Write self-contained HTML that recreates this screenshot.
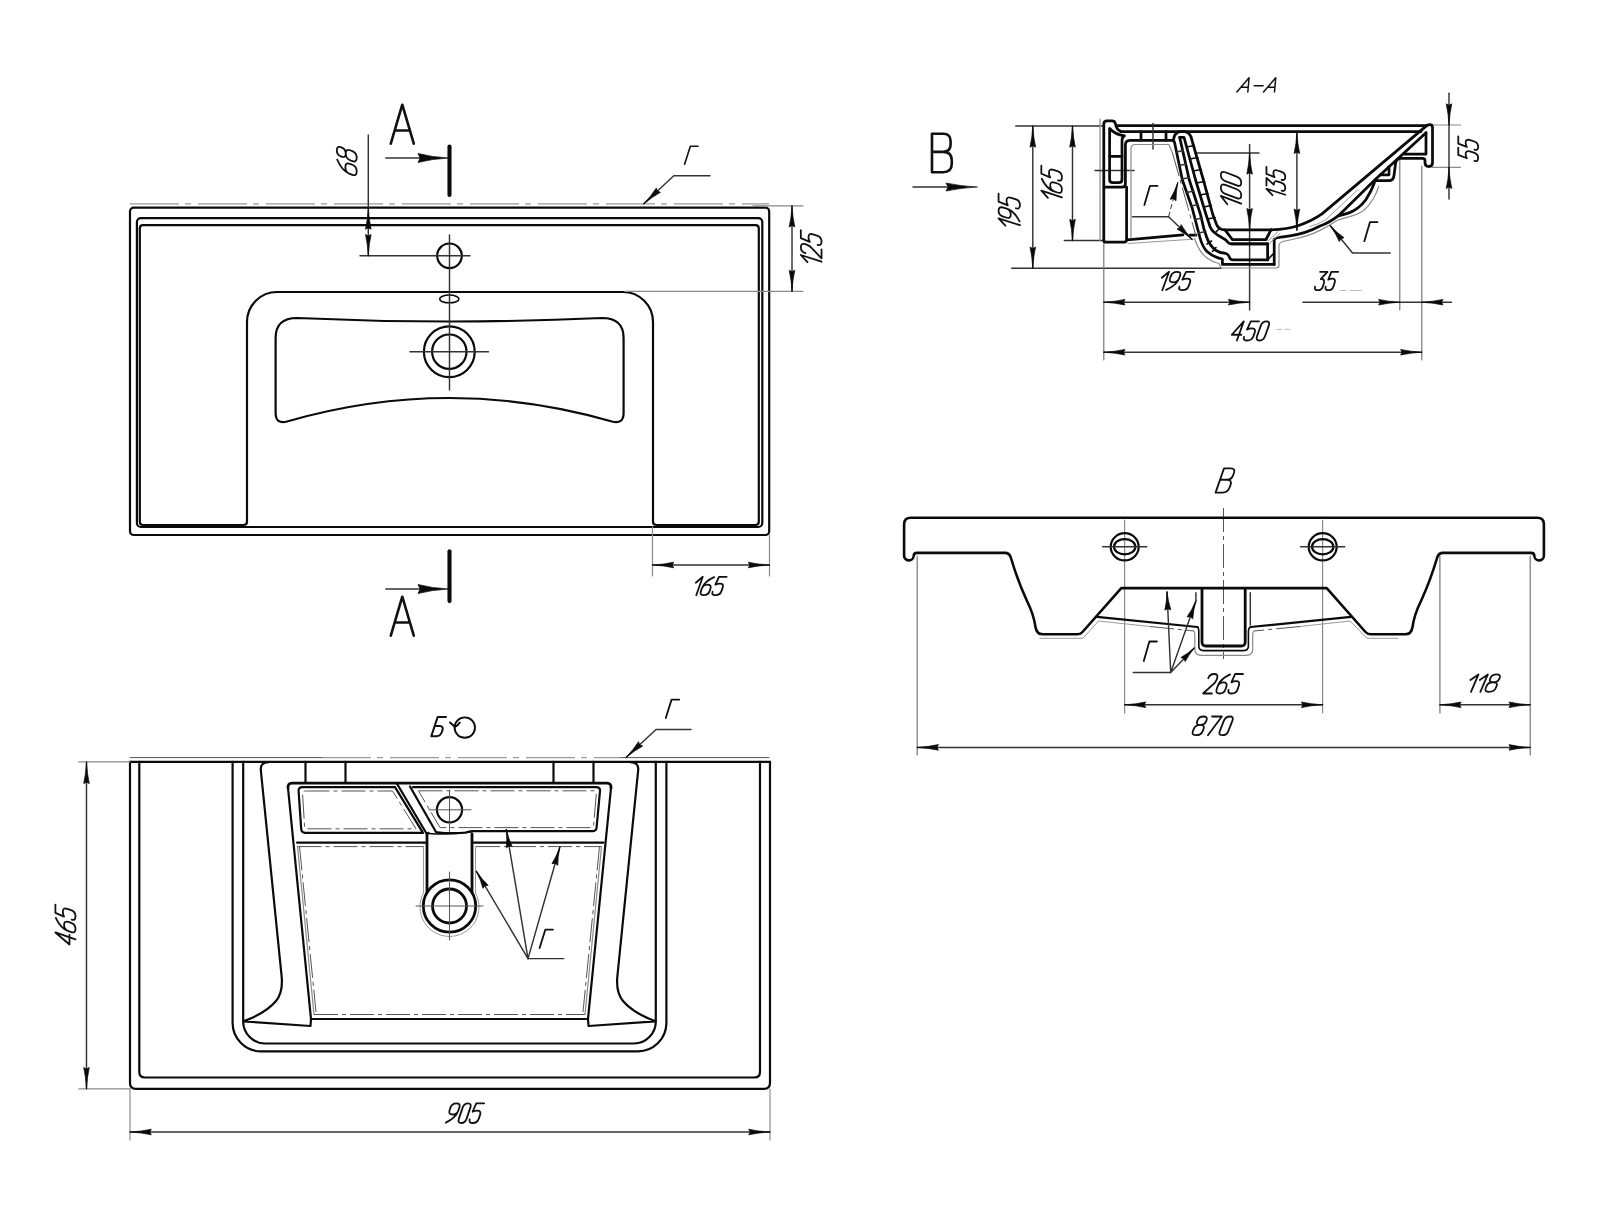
<!DOCTYPE html>
<html><head><meta charset="utf-8"><title>Sink drawing</title><style>
html,body{margin:0;padding:0;background:#fff;}
body{width:1600px;height:1217px;overflow:hidden;font-family:"Liberation Sans",sans-serif;}
svg{display:block}
path,circle,rect,ellipse{fill:none;stroke-linecap:round;stroke-linejoin:round}
.k{stroke:#0a0a0a;stroke-width:2.2}
.kk{stroke:#0a0a0a;stroke-width:4.1}
.kv{stroke:#0a0a0a;stroke-width:2.6}
.kk2{stroke:#0a0a0a;stroke-width:2.8}
.ks{stroke:#0a0a0a;stroke-width:2.75}
.m{stroke:#0a0a0a;stroke-width:1.6}
.m2{stroke:#0a0a0a;stroke-width:1.9}
.t{stroke:#333;stroke-width:1.45}
.c{stroke:#555;stroke-width:1}
.e{stroke:#777;stroke-width:1.2}
.f{stroke:#bbb;stroke-width:1}
.g{stroke:#8a8a8a;stroke-width:1.2}
.gt{stroke:#9a9a9a;stroke-width:1}
.dd{stroke:#9a9a9a;stroke-width:1.3;stroke-dasharray:49 6 6 7;stroke-linecap:butt}
.dk{stroke:#555;stroke-width:1;stroke-dasharray:24 4 4 4;stroke-linecap:butt}
.ds{stroke:#333;stroke-width:1;stroke-dasharray:5 3;stroke-linecap:butt}
</style></head>
<body><svg width="1600" height="1217" viewBox="0 0 1600 1217">
<rect x="0" y="0" width="1600" height="1217" fill="#fff" stroke="none"/>
<path class="dd" d="M130,203.8 H769"/>
<rect class="k" x="130" y="207.7" width="639.2" height="327.3" rx="3.8"/>
<rect class="k" x="136.9" y="218.1" width="625.4" height="308.9" rx="4"/>
<path class="k" d="M143,525 H243.5 Q247,525 247,521.5 V322 A30,30 0 0 1 277,292 H623 A30,30 0 0 1 653,322 V521.5 Q653,525 656.5,525 H755.5 Q758.8,525 758.8,521.8 V228.4 Q758.8,225.2 755.5,225.2 H143 Q139.8,225.2 139.8,228.4 V521.8 Q139.8,525 143,525 Z"/>
<path class="k" d="M275.6,338 Q275.6,318 297,318 Q449.5,325 602,318 Q623.6,318 623.6,338 V413 Q623.6,424.5 612,421.5 Q449.5,374.5 287,421.5 Q275.6,424.5 275.6,413 Z"/>
<circle class="k" cx="449.3" cy="351.7" r="25.4"/>
<circle class="k" cx="449.3" cy="351.7" r="17.2"/>
<path class="t" d="M410,351.7 H488.5"/>
<ellipse class="m" cx="449.3" cy="298.9" rx="9.6" ry="3.9"/>
<circle class="k" cx="449.5" cy="255.8" r="12.3"/>
<path class="t" d="M449.5,235 V390"/>
<path class="t" d="M360,255.8 H470"/>
<path class="t" d="M368.3,135 V255.8"/>
<path transform="translate(368.30,208.30) rotate(-90.00)" d="M0,0 Q-11.55,0.62 -21.00,2.80 L-19.53,0 L-21.00,-2.80 Q-11.55,-0.62 0,0 Z" style="fill:#0a0a0a;stroke:#0a0a0a;stroke-width:0.7;stroke-linejoin:round"/>
<path transform="translate(368.30,255.50) rotate(90.00)" d="M0,0 Q-11.55,0.62 -21.00,2.80 L-19.53,0 L-21.00,-2.80 Q-11.55,-0.62 0,0 Z" style="fill:#0a0a0a;stroke:#0a0a0a;stroke-width:0.7;stroke-linejoin:round"/>
<g id="t0" transform="translate(-0.349,-16.186) scale(1.0010,1.0995) translate(356.69,175.19) rotate(-90) scale(1.9786,1.9880) skewX(-19)" fill="none" stroke="#111" stroke-width="1.8" stroke-linecap="round" stroke-linejoin="round"><path vector-effect="non-scaling-stroke" transform="translate(0.00,-10)" d="M4.4,0.2 Q0,2.6 0,6.2 V7.8 Q0,10 2.3,10 Q4.6,10 4.6,7.8 V6.5 Q4.6,4.3 2.3,4.3 Q0,4.3 0,6.5"/><path vector-effect="non-scaling-stroke" transform="translate(6.30,-10)" d="M2.3,0 Q4.4,0 4.4,2 V2.5 Q4.4,4.5 2.3,4.5 Q0.2,4.5 0.2,2.5 V2 Q0.2,0 2.3,0 Z M2.3,4.5 Q4.6,4.5 4.6,6.7 V7.8 Q4.6,10 2.3,10 Q0,10 0,7.8 V6.7 Q0,4.5 2.3,4.5 Z"/></g>
<g id="t1" transform="translate(-15.250,-2.618) scale(1.0380,1.0208) translate(391.17,143.33) scale(3.9571,3.8160)" fill="none" stroke="#111" stroke-width="2.6" stroke-linecap="round" stroke-linejoin="round"><path vector-effect="non-scaling-stroke" transform="translate(0.00,-10)" d="M0,10 L2.8,0 L5.6,10 M0.95,6.6 H4.65"/></g>
<path class="t" d="M385.8,158 H440"/>
<path transform="translate(448.00,158.00) rotate(0.00)" d="M0,0 Q-16.50,0.99 -30.00,4.50 L-27.90,0 L-30.00,-4.50 Q-16.50,-0.99 0,0 Z" style="fill:#0a0a0a;stroke:#0a0a0a;stroke-width:0.7;stroke-linejoin:round"/>
<path class="kk" d="M449.5,146.6 V194.9"/>
<path class="kk" d="M449.5,551.2 V601.1"/>
<path class="t" d="M385.8,589 H440"/>
<path transform="translate(448.00,589.00) rotate(0.00)" d="M0,0 Q-16.50,0.99 -30.00,4.50 L-27.90,0 L-30.00,-4.50 Q-16.50,-0.99 0,0 Z" style="fill:#0a0a0a;stroke:#0a0a0a;stroke-width:0.7;stroke-linejoin:round"/>
<g id="t2" transform="translate(-15.250,-12.875) scale(1.0380,1.0208) translate(391.17,635.33) scale(3.9571,3.8160)" fill="none" stroke="#111" stroke-width="2.6" stroke-linecap="round" stroke-linejoin="round"><path vector-effect="non-scaling-stroke" transform="translate(0.00,-10)" d="M0,10 L2.8,0 L5.6,10 M0.95,6.6 H4.65"/></g>
<g id="t3" transform="translate(8.165,1.375) scale(0.9882,0.9911) translate(684.52,164.28) scale(1.6859,1.8060) skewX(-19)" fill="none" stroke="#111" stroke-width="1.6" stroke-linecap="round" stroke-linejoin="round"><path vector-effect="non-scaling-stroke" transform="translate(0.00,-10)" d="M0,10 V0 H4.6"/></g>
<path class="t" d="M710,175.8 H673.8 L643.8,203.8"/>
<path transform="translate(643.80,203.80) rotate(136.97)" d="M0,0 Q-11.00,0.66 -20.00,3.00 L-18.60,0 L-20.00,-3.00 Q-11.00,-0.66 0,0 Z" style="fill:#0a0a0a;stroke:#0a0a0a;stroke-width:0.7;stroke-linejoin:round"/>
<path class="g" d="M753,205.8 H803 M625,291.3 H803"/>
<path class="t" d="M792,206 V291"/>
<path transform="translate(792.00,206.00) rotate(-90.00)" d="M0,0 Q-11.55,0.62 -21.00,2.80 L-19.53,0 L-21.00,-2.80 Q-11.55,-0.62 0,0 Z" style="fill:#0a0a0a;stroke:#0a0a0a;stroke-width:0.7;stroke-linejoin:round"/>
<path transform="translate(792.00,291.20) rotate(90.00)" d="M0,0 Q-11.55,0.62 -21.00,2.80 L-19.53,0 L-21.00,-2.80 Q-11.55,-0.62 0,0 Z" style="fill:#0a0a0a;stroke:#0a0a0a;stroke-width:0.7;stroke-linejoin:round"/>
<g id="t4" transform="translate(-0.784,-33.040) scale(1.0010,1.1435) translate(821.49,262.19) rotate(-90) scale(1.7062,2.0680) skewX(-19)" fill="none" stroke="#111" stroke-width="1.8" stroke-linecap="round" stroke-linejoin="round"><path vector-effect="non-scaling-stroke" transform="translate(0.00,-10)" d="M0,3.2 L2.6,0 V10"/><path vector-effect="non-scaling-stroke" transform="translate(4.30,-10)" d="M0,2.2 Q0,0 2.3,0 Q4.6,0 4.6,2.2 V2.8 Q4.6,4.3 3.5,5.5 L0,10 H4.6"/><path vector-effect="non-scaling-stroke" transform="translate(10.60,-10)" d="M4.7,0 H0.6 L0.2,4.3 Q1.1,3.7 2.4,3.7 Q4.6,3.7 4.6,5.9 V7.8 Q4.6,10 2.3,10 Q0,10 0,8.1"/></g>
<path class="g" d="M652.5,527 V576 M769.5,535 V576"/>
<path class="t" d="M652.5,565 H769.5"/>
<path transform="translate(652.70,565.00) rotate(180.00)" d="M0,0 Q-11.55,0.62 -21.00,2.80 L-19.53,0 L-21.00,-2.80 Q-11.55,-0.62 0,0 Z" style="fill:#0a0a0a;stroke:#0a0a0a;stroke-width:0.7;stroke-linejoin:round"/>
<path transform="translate(769.30,565.00) rotate(0.00)" d="M0,0 Q-11.55,0.62 -21.00,2.80 L-19.53,0 L-21.00,-2.80 Q-11.55,-0.62 0,0 Z" style="fill:#0a0a0a;stroke:#0a0a0a;stroke-width:0.7;stroke-linejoin:round"/>
<g id="t5" transform="translate(-104.277,-0.638) scale(1.1435,1.0011) translate(695.81,595.19) scale(1.6475,1.8380) skewX(-19)" fill="none" stroke="#111" stroke-width="1.8" stroke-linecap="round" stroke-linejoin="round"><path vector-effect="non-scaling-stroke" transform="translate(0.00,-10)" d="M0,3.2 L2.6,0 V10"/><path vector-effect="non-scaling-stroke" transform="translate(4.30,-10)" d="M4.4,0.2 Q0,2.6 0,6.2 V7.8 Q0,10 2.3,10 Q4.6,10 4.6,7.8 V6.5 Q4.6,4.3 2.3,4.3 Q0,4.3 0,6.5"/><path vector-effect="non-scaling-stroke" transform="translate(10.60,-10)" d="M4.7,0 H0.6 L0.2,4.3 Q1.1,3.7 2.4,3.7 Q4.6,3.7 4.6,5.9 V7.8 Q4.6,10 2.3,10 Q0,10 0,8.1"/></g>
<path class="t" d="M1015.8,126 H1104 M1011.7,268.3 H1221 M1064.3,240.5 H1104"/>
<path class="t" d="M1032.8,126 V268.3 M1072.5,126 V240.5"/>
<path transform="translate(1032.80,126.20) rotate(-90.00)" d="M0,0 Q-11.55,0.62 -21.00,2.80 L-19.53,0 L-21.00,-2.80 Q-11.55,-0.62 0,0 Z" style="fill:#0a0a0a;stroke:#0a0a0a;stroke-width:0.7;stroke-linejoin:round"/>
<path transform="translate(1032.80,268.10) rotate(90.00)" d="M0,0 Q-11.55,0.62 -21.00,2.80 L-19.53,0 L-21.00,-2.80 Q-11.55,-0.62 0,0 Z" style="fill:#0a0a0a;stroke:#0a0a0a;stroke-width:0.7;stroke-linejoin:round"/>
<path transform="translate(1072.50,126.20) rotate(-90.00)" d="M0,0 Q-11.55,0.62 -21.00,2.80 L-19.53,0 L-21.00,-2.80 Q-11.55,-0.62 0,0 Z" style="fill:#0a0a0a;stroke:#0a0a0a;stroke-width:0.7;stroke-linejoin:round"/>
<path transform="translate(1072.50,240.30) rotate(90.00)" d="M0,0 Q-11.55,0.62 -21.00,2.80 L-19.53,0 L-21.00,-2.80 Q-11.55,-0.62 0,0 Z" style="fill:#0a0a0a;stroke:#0a0a0a;stroke-width:0.7;stroke-linejoin:round"/>
<g id="t6" transform="translate(-0.944,-27.794) scale(1.0009,1.1435) translate(1019.99,225.69) rotate(-90) scale(1.7115,2.1380) skewX(-19)" fill="none" stroke="#111" stroke-width="1.8" stroke-linecap="round" stroke-linejoin="round"><path vector-effect="non-scaling-stroke" transform="translate(0.00,-10)" d="M0,3.2 L2.6,0 V10"/><path vector-effect="non-scaling-stroke" transform="translate(4.30,-10)" d="M0.2,9.8 Q4.6,7.4 4.6,3.8 V2.2 Q4.6,0 2.3,0 Q0,0 0,2.2 V3.5 Q0,5.7 2.3,5.7 Q4.6,5.7 4.6,3.5"/><path vector-effect="non-scaling-stroke" transform="translate(10.60,-10)" d="M4.7,0 H0.6 L0.2,4.3 Q1.1,3.7 2.4,3.7 Q4.6,3.7 4.6,5.9 V7.8 Q4.6,10 2.3,10 Q0,10 0,8.1"/></g>
<g id="t7" transform="translate(-1.022,-23.790) scale(1.0010,1.1435) translate(1061.89,197.79) rotate(-90) scale(1.7115,2.0580) skewX(-19)" fill="none" stroke="#111" stroke-width="1.8" stroke-linecap="round" stroke-linejoin="round"><path vector-effect="non-scaling-stroke" transform="translate(0.00,-10)" d="M0,3.2 L2.6,0 V10"/><path vector-effect="non-scaling-stroke" transform="translate(4.30,-10)" d="M4.4,0.2 Q0,2.6 0,6.2 V7.8 Q0,10 2.3,10 Q4.6,10 4.6,7.8 V6.5 Q4.6,4.3 2.3,4.3 Q0,4.3 0,6.5"/><path vector-effect="non-scaling-stroke" transform="translate(10.60,-10)" d="M4.7,0 H0.6 L0.2,4.3 Q1.1,3.7 2.4,3.7 Q4.6,3.7 4.6,5.9 V7.8 Q4.6,10 2.3,10 Q0,10 0,8.1"/></g>
<path class="g" d="M1100,119 V241"/>
<path class="t" d="M1095,170.5 H1134"/>
<path class="e" d="M1103.8,240 V360 M1399.8,160 V310 M1421.8,166 V360"/>
<path class="t" d="M1249.6,144.4 V310"/>
<path class="t" d="M1103.8,302.2 H1249.6"/>
<path transform="translate(1104.00,302.20) rotate(180.00)" d="M0,0 Q-11.55,0.62 -21.00,2.80 L-19.53,0 L-21.00,-2.80 Q-11.55,-0.62 0,0 Z" style="fill:#0a0a0a;stroke:#0a0a0a;stroke-width:0.7;stroke-linejoin:round"/>
<path transform="translate(1249.40,302.20) rotate(0.00)" d="M0,0 Q-11.55,0.62 -21.00,2.80 L-19.53,0 L-21.00,-2.80 Q-11.55,-0.62 0,0 Z" style="fill:#0a0a0a;stroke:#0a0a0a;stroke-width:0.7;stroke-linejoin:round"/>
<g id="t8" transform="translate(-171.272,-0.306) scale(1.1434,1.0011) translate(1161.81,290.19) scale(1.7276,1.8380) skewX(-19)" fill="none" stroke="#111" stroke-width="1.8" stroke-linecap="round" stroke-linejoin="round"><path vector-effect="non-scaling-stroke" transform="translate(0.00,-10)" d="M0,3.2 L2.6,0 V10"/><path vector-effect="non-scaling-stroke" transform="translate(4.30,-10)" d="M0.2,9.8 Q4.6,7.4 4.6,3.8 V2.2 Q4.6,0 2.3,0 Q0,0 0,2.2 V3.5 Q0,5.7 2.3,5.7 Q4.6,5.7 4.6,3.5"/><path vector-effect="non-scaling-stroke" transform="translate(10.60,-10)" d="M4.7,0 H0.6 L0.2,4.3 Q1.1,3.7 2.4,3.7 Q4.6,3.7 4.6,5.9 V7.8 Q4.6,10 2.3,10 Q0,10 0,8.1"/></g>
<path class="t" d="M1303,302.2 H1451.5"/>
<path transform="translate(1399.60,302.20) rotate(0.00)" d="M0,0 Q-11.55,0.62 -21.00,2.80 L-19.53,0 L-21.00,-2.80 Q-11.55,-0.62 0,0 Z" style="fill:#0a0a0a;stroke:#0a0a0a;stroke-width:0.7;stroke-linejoin:round"/>
<path transform="translate(1422.00,302.20) rotate(180.00)" d="M0,0 Q-11.55,0.62 -21.00,2.80 L-19.53,0 L-21.00,-2.80 Q-11.55,-0.62 0,0 Z" style="fill:#0a0a0a;stroke:#0a0a0a;stroke-width:0.7;stroke-linejoin:round"/>
<g id="t9" transform="translate(-50.132,-0.310) scale(1.0375,1.0011) translate(1314.81,290.19) scale(1.6187,1.8380) skewX(-19)" fill="none" stroke="#111" stroke-width="1.8" stroke-linecap="round" stroke-linejoin="round"><path vector-effect="non-scaling-stroke" transform="translate(0.00,-10)" d="M0.2,0 H4.6 L2,3.9 Q4.6,3.9 4.6,6.1 V7.8 Q4.6,10 2.3,10 Q0,10 0,8.1"/><path vector-effect="non-scaling-stroke" transform="translate(6.30,-10)" d="M4.7,0 H0.6 L0.2,4.3 Q1.1,3.7 2.4,3.7 Q4.6,3.7 4.6,5.9 V7.8 Q4.6,10 2.3,10 Q0,10 0,8.1"/></g>
<path class="f" d="M1340,290.5 H1346 M1350,290.5 H1361"/>
<path class="t" d="M1103.8,352.2 H1421.8"/>
<path transform="translate(1104.00,352.20) rotate(180.00)" d="M0,0 Q-11.55,0.62 -21.00,2.80 L-19.53,0 L-21.00,-2.80 Q-11.55,-0.62 0,0 Z" style="fill:#0a0a0a;stroke:#0a0a0a;stroke-width:0.7;stroke-linejoin:round"/>
<path transform="translate(1421.60,352.20) rotate(0.00)" d="M0,0 Q-11.55,0.62 -21.00,2.80 L-19.53,0 L-21.00,-2.80 Q-11.55,-0.62 0,0 Z" style="fill:#0a0a0a;stroke:#0a0a0a;stroke-width:0.7;stroke-linejoin:round"/>
<g id="t10" transform="translate(-109.521,-0.347) scale(1.0872,1.0010) translate(1231.81,340.49) scale(1.8375,1.9080) skewX(-19)" fill="none" stroke="#111" stroke-width="1.8" stroke-linecap="round" stroke-linejoin="round"><path vector-effect="non-scaling-stroke" transform="translate(0.00,-10)" d="M3.6,10 V0 L0,7 H4.8"/><path vector-effect="non-scaling-stroke" transform="translate(6.50,-10)" d="M4.7,0 H0.6 L0.2,4.3 Q1.1,3.7 2.4,3.7 Q4.6,3.7 4.6,5.9 V7.8 Q4.6,10 2.3,10 Q0,10 0,8.1"/><path vector-effect="non-scaling-stroke" transform="translate(12.90,-10)" d="M2,0 Q4,0 4,2.2 V7.8 Q4,10 2,10 Q0,10 0,7.8 V2.2 Q0,0 2,0 Z"/></g>
<path class="f" d="M1277,329.4 H1282 M1285,329.4 H1290"/>
<path class="t" d="M1195,153 H1259"/>
<path transform="translate(1249.60,153.20) rotate(-90.00)" d="M0,0 Q-11.55,0.62 -21.00,2.80 L-19.53,0 L-21.00,-2.80 Q-11.55,-0.62 0,0 Z" style="fill:#0a0a0a;stroke:#0a0a0a;stroke-width:0.7;stroke-linejoin:round"/>
<path transform="translate(1249.60,229.50) rotate(90.00)" d="M0,0 Q-11.55,0.62 -21.00,2.80 L-19.53,0 L-21.00,-2.80 Q-11.55,-0.62 0,0 Z" style="fill:#0a0a0a;stroke:#0a0a0a;stroke-width:0.7;stroke-linejoin:round"/>
<g id="t11" transform="translate(-1.208,-35.491) scale(1.0010,1.1994) translate(1241.19,204.19) rotate(-90) scale(1.8563,2.0380) skewX(-19)" fill="none" stroke="#111" stroke-width="1.8" stroke-linecap="round" stroke-linejoin="round"><path vector-effect="non-scaling-stroke" transform="translate(0.00,-10)" d="M0,3.2 L2.6,0 V10"/><path vector-effect="non-scaling-stroke" transform="translate(4.30,-10)" d="M2,0 Q4,0 4,2.2 V7.8 Q4,10 2,10 Q0,10 0,7.8 V2.2 Q0,0 2,0 Z"/><path vector-effect="non-scaling-stroke" transform="translate(10.00,-10)" d="M2,0 Q4,0 4,2.2 V7.8 Q4,10 2,10 Q0,10 0,7.8 V2.2 Q0,0 2,0 Z"/></g>
<path class="t" d="M1296.9,132 V230.3"/>
<path transform="translate(1296.90,132.60) rotate(-90.00)" d="M0,0 Q-11.55,0.62 -21.00,2.80 L-19.53,0 L-21.00,-2.80 Q-11.55,-0.62 0,0 Z" style="fill:#0a0a0a;stroke:#0a0a0a;stroke-width:0.7;stroke-linejoin:round"/>
<path transform="translate(1296.90,230.00) rotate(90.00)" d="M0,0 Q-11.55,0.62 -21.00,2.80 L-19.53,0 L-21.00,-2.80 Q-11.55,-0.62 0,0 Z" style="fill:#0a0a0a;stroke:#0a0a0a;stroke-width:0.7;stroke-linejoin:round"/>
<g id="t12" transform="translate(-1.359,-23.963) scale(1.0011,1.1436) translate(1285.19,195.19) rotate(-90) scale(1.5141,1.8780) skewX(-19)" fill="none" stroke="#111" stroke-width="1.8" stroke-linecap="round" stroke-linejoin="round"><path vector-effect="non-scaling-stroke" transform="translate(0.00,-10)" d="M0,3.2 L2.6,0 V10"/><path vector-effect="non-scaling-stroke" transform="translate(4.30,-10)" d="M0.2,0 H4.6 L2,3.9 Q4.6,3.9 4.6,6.1 V7.8 Q4.6,10 2.3,10 Q0,10 0,8.1"/><path vector-effect="non-scaling-stroke" transform="translate(10.60,-10)" d="M4.7,0 H0.6 L0.2,4.3 Q1.1,3.7 2.4,3.7 Q4.6,3.7 4.6,5.9 V7.8 Q4.6,10 2.3,10 Q0,10 0,8.1"/></g>
<path class="g" d="M1432,125 H1460.5 M1432,167.3 H1460.5"/>
<path class="t" d="M1449,93.3 V199"/>
<path transform="translate(1449.00,124.80) rotate(90.00)" d="M0,0 Q-11.55,0.62 -21.00,2.80 L-19.53,0 L-21.00,-2.80 Q-11.55,-0.62 0,0 Z" style="fill:#0a0a0a;stroke:#0a0a0a;stroke-width:0.7;stroke-linejoin:round"/>
<path transform="translate(1449.00,167.50) rotate(-90.00)" d="M0,0 Q-11.55,0.62 -21.00,2.80 L-19.53,0 L-21.00,-2.80 Q-11.55,-0.62 0,0 Z" style="fill:#0a0a0a;stroke:#0a0a0a;stroke-width:0.7;stroke-linejoin:round"/>
<g id="t13" transform="translate(-1.499,-5.076) scale(1.0010,1.0372) translate(1478.19,161.19) rotate(-90) scale(1.7108,1.9880) skewX(-19)" fill="none" stroke="#111" stroke-width="1.8" stroke-linecap="round" stroke-linejoin="round"><path vector-effect="non-scaling-stroke" transform="translate(0.00,-10)" d="M4.7,0 H0.6 L0.2,4.3 Q1.1,3.7 2.4,3.7 Q4.6,3.7 4.6,5.9 V7.8 Q4.6,10 2.3,10 Q0,10 0,8.1"/><path vector-effect="non-scaling-stroke" transform="translate(6.40,-10)" d="M4.7,0 H0.6 L0.2,4.3 Q1.1,3.7 2.4,3.7 Q4.6,3.7 4.6,5.9 V7.8 Q4.6,10 2.3,10 Q0,10 0,8.1"/></g>
<g id="t14" transform="translate(-165.417,1.344) scale(1.1339,0.9841) translate(1236.67,92.12) scale(1.7290,1.4450) skewX(-19)" fill="none" stroke="#111" stroke-width="1.5" stroke-linecap="round" stroke-linejoin="round"><path vector-effect="non-scaling-stroke" transform="translate(0.00,-10)" d="M0,10 L2.8,0 L5.6,10 M0.95,6.6 H4.65"/><path vector-effect="non-scaling-stroke" transform="translate(7.30,-10)" d="M0,5.6 H4.6"/><path vector-effect="non-scaling-stroke" transform="translate(13.60,-10)" d="M0,10 L2.8,0 L5.6,10 M0.95,6.6 H4.65"/></g>
<g id="t15" transform="translate(-36.569,-3.006) scale(1.0388,1.0196) translate(932.37,171.83) scale(3.8120,3.7660)" fill="none" stroke="#111" stroke-width="2.6" stroke-linecap="round" stroke-linejoin="round"><path vector-effect="non-scaling-stroke" transform="translate(0.00,-10)" d="M0,0 V10 H2.8 Q5,10 5,7.8 V6.9 Q5,4.7 2.8,4.7 H0 M2.8,4.7 Q4.7,4.7 4.7,2.8 V1.9 Q4.7,0 2.8,0 H0"/></g>
<path class="t" d="M913,187 H965"/>
<path transform="translate(977.00,187.00) rotate(0.00)" d="M0,0 Q-17.05,0.88 -31.00,4.00 L-28.83,0 L-31.00,-4.00 Q-17.05,-0.88 0,0 Z" style="fill:#0a0a0a;stroke:#0a0a0a;stroke-width:0.7;stroke-linejoin:round"/>
<path class="ks" d="M1117,125.6 H1427"/>
<path class="ks" d="M1120.5,131.5 H1421"/>
<path class="ks" d="M1103.8,240.5 V124 Q1103.8,120.8 1107,120.8 H1112 Q1115,120.8 1115.5,124 Q1116.5,130 1121,131.3"/>
<path class="ks" d="M1104,187.2 H1122 Q1125.4,187.2 1125.4,184 V145 Q1125.4,140.3 1130,140.3 H1173.5"/>
<path class="ks" d="M1109.6,128.5 V179.5 Q1109.6,182.7 1112.8,182.7 H1118.8 Q1122,182.7 1122,179.5 V141 Q1122,137 1124.5,135.8 Q1115,134.5 1109.6,128.5 Z"/>
<path class="ks" d="M1109.6,156.4 H1122"/>
<path class="ks" d="M1141,131.5 V140.3 M1166,131.5 V140.3"/>
<path class="t" d="M1153,123.5 V149"/>
<path class="ks" d="M1126.6,187 V238.5"/>
<path class="ks" d="M1103.8,240.5 Q1104,242.2 1106,242.2 H1124 Q1126.6,242.2 1126.6,239.5"/>
<path class="ks" d="M1127,239.8 L1183,234.9 M1190,235.2 H1196"/>
<path class="gt" d="M1128,243.5 L1193,239.2"/>
<path class="g" d="M1131,238 V149 Q1131,144.5 1135.5,144.5 H1169 L1172.5,153"/>
<path class="dk" d="M1172.5,153 L1196,236"/>
<path class="ks" d="M1173.5,140.3 L1174.5,142.3 L1182.4,180 L1192.4,208.8 L1199.9,237.5 Q1202.5,247 1207,251.5 Q1214,257.5 1222.4,259 V264.4 H1274.2"/>
<path class="ks" d="M1173.5,140.3 Q1174,131.3 1182,131.3 Q1188.8,131.3 1190.9,136.5 L1203.4,180 L1212.8,214.5 L1216,223.1 Q1218,229.9 1225,229.9 H1271"/>
<path class="ks" d="M1179.7,137.4 L1189.3,180 L1200.5,214.5 L1203.9,228.9 L1206.8,237.5 Q1209.5,245.5 1216,250.5 Q1220,253 1224.5,253.2 Q1228,253.5 1229.8,258 Q1230.5,259.8 1233,259.8 H1268"/>
<path class="ks" d="M1179.7,137.4 H1184 L1184,137.4 L1195.6,180 L1206,214.5 L1210.3,227.2 Q1212.5,232.5 1221.8,237.5 Q1226,239.5 1228.2,242.6 Q1229,243.8 1231,243.8 H1268"/>
<path class="t" d="M1176.5,152.0 L1183.3,150.5 M1179.4,165.5 L1186.4,164.0 M1182.2,179.0 L1189.5,177.5 M1186.7,192.5 L1193.8,191.0 M1191.4,206.0 L1198.2,204.5 M1195.2,219.5 L1202.0,218.0 M1198.7,233.0 L1205.8,231.5"/>
<path class="m" d="M1186.6,147.0 L1194.3,145.5 M1189.9,159.0 L1197.8,157.5 M1193.1,171.0 L1201.2,169.5 M1196.5,183.0 L1204.6,181.5 M1200.1,195.0 L1207.9,193.5 M1203.7,207.0 L1211.2,205.5 M1207.5,219.0 L1215.0,217.5 M1215.5,232.5 L1219.5,228.5 M1207,244 L1211.5,241 M1212.5,251.5 L1216,247.5"/>
<path class="ks" d="M1225,229.9 L1232.3,239.5 H1266 L1271,229.9 M1231.5,243.8 H1267.6 V259.8 M1274.2,239.3 V264.4"/>
<path class="m" d="M1267.6,259.8 L1274,253"/>
<path class="g" d="M1194.5,238.5 Q1199,252 1207,258 Q1213,262.5 1219,263.5 L1221,268 H1276 Q1279,268 1279,265 V246 Q1279,242.6 1283,241.5"/>
<path class="ks" d="M1271,229.9 Q1288,229.2 1298,225.7 Q1311,221.5 1322,213.9 L1427,125.4"/>
<path class="ks" d="M1426,132.8 L1375.5,179.3 L1339.7,214.6 Q1330,222.5 1320,226 Q1306,233.5 1290,235.8 Q1282,236.8 1279,237.5 Q1276,237.8 1274.2,239.3"/>
<path class="ks" d="M1374.5,182.5 Q1371.5,191 1366,199.5 Q1359,209 1349.6,212.6 Q1344,214.6 1338.5,215.8"/>
<path class="g" d="M1378.7,186.5 Q1376.5,193 1373.3,198.8 Q1369,206 1363.4,210.7 Q1357,214.8 1349.6,216.6 Q1342,218.5 1336.8,220.5 Q1329,226 1320,230.4 Q1308,236.5 1292,239.5 L1283,241.5"/>
<path class="gt" d="M1357.5,190 L1326,219.5 Q1318,224.5 1310,226.5"/>
<path class="gt" d="M1268,241 L1278,231.5 M1270,243 L1280,233.5"/>
<path class="ks" d="M1427,125.4 Q1428,124.6 1429.8,124.6 Q1432.5,124.6 1432.5,127.5 V162.8 Q1432.5,166.5 1428.8,166.5 Q1425,166.5 1425,162.8 V160.8 Q1425,158.4 1422.5,158.4 H1400.5 Q1396.6,158.4 1395.6,163 L1394,175.5 Q1393.3,180.6 1389,180.6 H1375.8"/>
<path class="ks" d="M1426,132.8 V154 H1404"/>
<path class="ks" d="M1389,166.3 V174.8 H1380.2"/>
<g id="t16" transform="translate(-1.772,-0.204) scale(1.0015,1.0010) translate(1144.41,204.99) scale(1.6386,1.9180) skewX(-19)" fill="none" stroke="#111" stroke-width="1.8" stroke-linecap="round" stroke-linejoin="round"><path vector-effect="non-scaling-stroke" transform="translate(0.00,-10)" d="M0,10 V0 H4.6"/></g>
<path class="t" d="M1132.5,216.7 H1168.6"/>
<path class="ds" d="M1168.6,216.7 L1177.6,183"/>
<path transform="translate(1177.80,182.60) rotate(-74.90)" d="M0,0 Q-9.90,0.66 -18.00,3.00 L-16.74,0 L-18.00,-3.00 Q-9.90,-0.66 0,0 Z" style="fill:#0a0a0a;stroke:#0a0a0a;stroke-width:0.7;stroke-linejoin:round"/>
<path class="t" d="M1168.6,216.7 L1192,239.3"/>
<path transform="translate(1192.00,239.30) rotate(44.00)" d="M0,0 Q-9.90,0.66 -18.00,3.00 L-16.74,0 L-18.00,-3.00 Q-9.90,-0.66 0,0 Z" style="fill:#0a0a0a;stroke:#0a0a0a;stroke-width:0.7;stroke-linejoin:round"/>
<g id="t17" transform="translate(-2.110,-0.243) scale(1.0015,1.0010) translate(1364.41,241.19) scale(1.6386,1.9080) skewX(-19)" fill="none" stroke="#111" stroke-width="1.8" stroke-linecap="round" stroke-linejoin="round"><path vector-effect="non-scaling-stroke" transform="translate(0.00,-10)" d="M0,10 V0 H4.6"/></g>
<path class="t" d="M1390.2,253 H1352.5 L1330.3,225.7"/>
<path transform="translate(1330.30,225.70) rotate(-129.12)" d="M0,0 Q-9.90,0.66 -18.00,3.00 L-16.74,0 L-18.00,-3.00 Q-9.90,-0.66 0,0 Z" style="fill:#0a0a0a;stroke:#0a0a0a;stroke-width:0.7;stroke-linejoin:round"/>
<path class="e" d="M917.2,556 V755 M1530.2,556 V755 M1439.9,556 V713"/>
<path class="g" d="M1124.6,520 V713 M1322.6,520 V713"/>
<path class="dk" d="M1223.5,508 V659"/>
<g id="t18" transform="translate(-133.395,-0.397) scale(1.1096,1.0008) translate(1215.71,492.59) scale(2.2124,2.4180) skewX(-19)" fill="none" stroke="#111" stroke-width="1.8" stroke-linecap="round" stroke-linejoin="round"><path vector-effect="non-scaling-stroke" transform="translate(0.00,-10)" d="M0,0 V10 H2.8 Q5,10 5,7.8 V6.9 Q5,4.7 2.8,4.7 H0 M2.8,4.7 Q4.7,4.7 4.7,2.8 V1.9 Q4.7,0 2.8,0 H0"/></g>
<path class="kv" d="M904.1,555.4 V524.3 Q904.1,517.8 910.8,517.8 H1537.2 Q1543.9,517.8 1543.9,524.3 V555.4 A4.8,4.8 0 0 1 1534.3,555.8 Q1534.2,552.9 1531,552.9 H1443 Q1438.8,552.9 1437.2,557.5 C1432,575 1427,588 1421,601 C1415,613 1413.5,620 1412.5,627 Q1411.5,634.3 1405,634.3 H1371 Q1367.5,634.3 1365.5,632 L1326.7,588.1 H1121.3 L1082.5,632 Q1080.5,634.3 1077,634.3 H1043 Q1036.5,634.3 1035.5,627 C1034.5,620 1033,613 1027,601 C1021,588 1016,575 1010.8,557.5 Q1009.2,552.9 1005,552.9 H917 Q913.8,552.9 913.7,555.8 A4.8,4.8 0 0 1 904.1,555.4 Z"/>
<path class="k" d="M1096.9,616.8 L1197.5,627 M1351.1,616.8 L1250.5,627"/>
<path class="gt" d="M1040,638.3 H1083 L1098.5,621 L1150,626.5 M1398,638.3 H1367 L1350,621 L1300,626.5"/>
<path class="dk" d="M1150,626.5 L1194,631 M1300,626.5 L1254,631"/>
<path class="kk2" d="M1202,588.3 V642 Q1202,646 1206,646 H1241.2 Q1245.2,646 1245.2,642 V588.3"/>
<path class="m" d="M1197.5,627 Q1198.8,628 1198.8,631 V646 Q1198.8,650.6 1203.5,650.6 H1243.7 Q1248.4,650.6 1248.4,646 V631 Q1248.4,628 1250.5,627"/>
<path class="g" d="M1194,631 Q1194.8,632 1194.8,635 V649 Q1194.8,655.3 1201,655.3 H1246.5 Q1252.7,655.3 1252.7,649 V635 Q1252.7,632 1254,631"/>
<path class="t" d="M1250.3,592.7 V625"/>
<ellipse class="k" cx="1124.7" cy="546.8" rx="14" ry="13.6"/>
<ellipse class="k" cx="1124.7" cy="546.8" rx="10.7" ry="7.6"/>
<path class="t" d="M1102.7,546.8 H1146.7"/>
<ellipse class="k" cx="1322.7" cy="546.8" rx="14" ry="13.6"/>
<ellipse class="k" cx="1322.7" cy="546.8" rx="10.7" ry="7.6"/>
<path class="t" d="M1300.7,546.8 H1344.7"/>
<g id="t19" transform="translate(-1.761,-0.669) scale(1.0015,1.0010) translate(1143.81,660.99) scale(1.6262,1.9480) skewX(-19)" fill="none" stroke="#111" stroke-width="1.8" stroke-linecap="round" stroke-linejoin="round"><path vector-effect="non-scaling-stroke" transform="translate(0.00,-10)" d="M0,10 V0 H4.6"/></g>
<path class="t" d="M1133.3,672.4 H1170.7"/>
<path class="t" d="M1170.7,672.4 L1167,592 M1170.7,672.4 L1195.9,600.9 V592.7 M1170.7,672.4 L1194.2,648"/>
<path transform="translate(1167.00,592.00) rotate(-92.63)" d="M0,0 Q-9.90,0.66 -18.00,3.00 L-16.74,0 L-18.00,-3.00 Q-9.90,-0.66 0,0 Z" style="fill:#0a0a0a;stroke:#0a0a0a;stroke-width:0.7;stroke-linejoin:round"/>
<path transform="translate(1195.90,600.90) rotate(-70.59)" d="M0,0 Q-9.90,0.66 -18.00,3.00 L-16.74,0 L-18.00,-3.00 Q-9.90,-0.66 0,0 Z" style="fill:#0a0a0a;stroke:#0a0a0a;stroke-width:0.7;stroke-linejoin:round"/>
<path transform="translate(1194.20,648.00) rotate(-46.08)" d="M0,0 Q-8.80,0.66 -16.00,3.00 L-14.88,0 L-16.00,-3.00 Q-8.80,-0.66 0,0 Z" style="fill:#0a0a0a;stroke:#0a0a0a;stroke-width:0.7;stroke-linejoin:round"/>
<path class="t" d="M1124.6,704.8 H1322.6 M1439.9,704.8 H1530.2 M917.2,747.4 H1530.2"/>
<path transform="translate(1124.80,704.80) rotate(180.00)" d="M0,0 Q-11.55,0.62 -21.00,2.80 L-19.53,0 L-21.00,-2.80 Q-11.55,-0.62 0,0 Z" style="fill:#0a0a0a;stroke:#0a0a0a;stroke-width:0.7;stroke-linejoin:round"/>
<path transform="translate(1322.40,704.80) rotate(0.00)" d="M0,0 Q-11.55,0.62 -21.00,2.80 L-19.53,0 L-21.00,-2.80 Q-11.55,-0.62 0,0 Z" style="fill:#0a0a0a;stroke:#0a0a0a;stroke-width:0.7;stroke-linejoin:round"/>
<path transform="translate(1440.10,704.80) rotate(180.00)" d="M0,0 Q-11.55,0.62 -21.00,2.80 L-19.53,0 L-21.00,-2.80 Q-11.55,-0.62 0,0 Z" style="fill:#0a0a0a;stroke:#0a0a0a;stroke-width:0.7;stroke-linejoin:round"/>
<path transform="translate(1530.00,704.80) rotate(0.00)" d="M0,0 Q-11.55,0.62 -21.00,2.80 L-19.53,0 L-21.00,-2.80 Q-11.55,-0.62 0,0 Z" style="fill:#0a0a0a;stroke:#0a0a0a;stroke-width:0.7;stroke-linejoin:round"/>
<path transform="translate(917.40,747.40) rotate(180.00)" d="M0,0 Q-11.55,0.62 -21.00,2.80 L-19.53,0 L-21.00,-2.80 Q-11.55,-0.62 0,0 Z" style="fill:#0a0a0a;stroke:#0a0a0a;stroke-width:0.7;stroke-linejoin:round"/>
<path transform="translate(1530.00,747.40) rotate(0.00)" d="M0,0 Q-11.55,0.62 -21.00,2.80 L-19.53,0 L-21.00,-2.80 Q-11.55,-0.62 0,0 Z" style="fill:#0a0a0a;stroke:#0a0a0a;stroke-width:0.7;stroke-linejoin:round"/>
<g id="t20" transform="translate(-3.243,-0.702) scale(1.0026,1.0010) translate(1203.21,693.49) scale(1.9177,1.9480) skewX(-19)" fill="none" stroke="#111" stroke-width="1.8" stroke-linecap="round" stroke-linejoin="round"><path vector-effect="non-scaling-stroke" transform="translate(0.00,-10)" d="M0,2.2 Q0,0 2.3,0 Q4.6,0 4.6,2.2 V2.8 Q4.6,4.3 3.5,5.5 L0,10 H4.6"/><path vector-effect="non-scaling-stroke" transform="translate(6.30,-10)" d="M4.4,0.2 Q0,2.6 0,6.2 V7.8 Q0,10 2.3,10 Q4.6,10 4.6,7.8 V6.5 Q4.6,4.3 2.3,4.3 Q0,4.3 0,6.5"/><path vector-effect="non-scaling-stroke" transform="translate(12.60,-10)" d="M4.7,0 H0.6 L0.2,4.3 Q1.1,3.7 2.4,3.7 Q4.6,3.7 4.6,5.9 V7.8 Q4.6,10 2.3,10 Q0,10 0,8.1"/></g>
<g id="t21" transform="translate(-72.431,-0.777) scale(1.0597,1.0011) translate(1192.51,735.19) scale(2.0146,1.8680) skewX(-19)" fill="none" stroke="#111" stroke-width="1.8" stroke-linecap="round" stroke-linejoin="round"><path vector-effect="non-scaling-stroke" transform="translate(0.00,-10)" d="M2.3,0 Q4.4,0 4.4,2 V2.5 Q4.4,4.5 2.3,4.5 Q0.2,4.5 0.2,2.5 V2 Q0.2,0 2.3,0 Z M2.3,4.5 Q4.6,4.5 4.6,6.7 V7.8 Q4.6,10 2.3,10 Q0,10 0,7.8 V6.7 Q0,4.5 2.3,4.5 Z"/><path vector-effect="non-scaling-stroke" transform="translate(6.30,-10)" d="M0,0 H4.6 L1.5,10"/><path vector-effect="non-scaling-stroke" transform="translate(12.60,-10)" d="M2,0 Q4,0 4,2.2 V7.8 Q4,10 2,10 Q0,10 0,7.8 V2.2 Q0,0 2,0 Z"/></g>
<g id="t22" transform="translate(-337.661,-0.786) scale(1.2261,1.0012) translate(1470.51,691.79) scale(1.7773,1.7380) skewX(-19)" fill="none" stroke="#111" stroke-width="1.8" stroke-linecap="round" stroke-linejoin="round"><path vector-effect="non-scaling-stroke" transform="translate(0.00,-10)" d="M0,3.2 L2.6,0 V10"/><path vector-effect="non-scaling-stroke" transform="translate(4.30,-10)" d="M0,3.2 L2.6,0 V10"/><path vector-effect="non-scaling-stroke" transform="translate(8.60,-10)" d="M2.3,0 Q4.4,0 4.4,2 V2.5 Q4.4,4.5 2.3,4.5 Q0.2,4.5 0.2,2.5 V2 Q0.2,0 2.3,0 Z M2.3,4.5 Q4.6,4.5 4.6,6.7 V7.8 Q4.6,10 2.3,10 Q0,10 0,7.8 V6.7 Q0,4.5 2.3,4.5 Z"/></g>
<path class="dd" d="M322,757.6 H620"/>
<path class="c" d="M130,757.6 H322 M620,757.6 H769"/>
<path class="k" d="M130,761.9 H770"/>
<path class="k" d="M130,761.9 V1083 Q130,1088.8 136,1088.8 H764 Q770,1088.8 770,1083 V761.9"/>
<path class="k" d="M139.3,761.9 V1072 Q139.3,1077.5 145,1077.5 H754.5 Q760,1077.5 760,1072 V761.9"/>
<path class="k" d="M232.6,761.9 V1023 A28.5,28.5 0 0 0 261,1051.4 H638 A28.5,28.5 0 0 0 666.4,1023 V761.9"/>
<path class="k" d="M243.2,761.9 V1021 A22,22 0 0 0 265,1043.5 H634 A22,22 0 0 0 655.8,1021 V761.9"/>
<path class="k" d="M268.5,762.2 Q260.2,762.4 260.8,770 L281.5,975 Q283.5,992 276,1001 Q266,1013 243.5,1021.3 L310.5,1026 L311,1019"/>
<path class="k" d="M288,788 L311,1019"/>
<path class="g" d="M297.5,846.5 L314,1014.5"/>
<path class="dk" d="M299.5,846.5 L316,1012"/>
<path class="k" d="M305.5,761.9 V783 M345.5,761.9 V783"/>
<path class="k" d="M630.5,762.2 Q638.8,762.4 638.2,770 L617.5,975 Q615.5,992 623.0,1001 Q633.0,1013 655.5,1021.3 L588.5,1026 L588.0,1019"/>
<path class="k" d="M611.0,788 L588.0,1019"/>
<path class="g" d="M601.5,846.5 L585.0,1014.5"/>
<path class="dk" d="M599.5,846.5 L583.0,1012"/>
<path class="k" d="M593.5,761.9 V783 M553.5,761.9 V783"/>
<path class="kk2" d="M288,788 Q287.6,783.2 292,783.2 H607 Q611.4,783.2 611,788"/>
<path class="k" d="M311,1019 H588"/>
<path class="dk" d="M314,1014.5 H585"/>
<path class="k" d="M302.5,787.2 H395 L423,832.8 H305 Q301.5,832.8 301.2,829 L298.6,791 Q298.4,787.2 302.5,787.2 Z"/>
<path class="dk" d="M305.5,791 H392.5 L416,828.8 H306.5 Q304.8,828.8 304.6,827 L302.5,793 Q302.4,791 305.5,791 Z"/>
<path class="k" d="M397,783.8 L426.5,833.5 M410,786.5 L436,832"/>
<path class="k" d="M413,787.2 H596 Q600.3,787.2 600,791 L596.6,827.5 Q596.2,831.2 592.5,831.2 H474 Q470,831.2 466,832.5 Q452,834 437,832.3"/>
<path class="dk" d="M418.5,790.8 H594 Q596.6,790.8 596.4,793 L593.6,825.5 Q593.4,827.6 591,827.6 H440 L418.5,790.8"/>
<circle class="k" cx="449.5" cy="809.8" r="12.6"/>
<path class="c" d="M429,809.8 H471 M449.5,790 V832"/>
<path class="k" d="M297,842.6 H425.5 M473.8,842.6 H603.5"/>
<path class="dk" d="M297.5,846.6 H424 M476,846.6 H601"/>
<path class="kk2" d="M427,834 V892 M472,834 V892"/>
<path class="k" d="M427,834 Q427,832.8 428.5,832.8"/>
<circle class="kk2" cx="449.5" cy="906" r="26.2"/>
<circle class="kk2" cx="449.5" cy="906" r="17"/>
<path class="m" d="M428.5,833.5 Q450,835 471,832"/>
<path class="gt" d="M423.5,846.6 V893 A29.5,29.5 0 1 0 475.5,893 V846.6"/>
<path class="c" d="M449.5,872 V940 M416,906 H483"/>
<path class="t" d="M528,958.6 H563.8"/>
<g id="t23" transform="translate(-0.817,-1.022) scale(1.0015,1.0011) translate(539.61,947.99) scale(1.6635,1.8380) skewX(-19)" fill="none" stroke="#111" stroke-width="1.8" stroke-linecap="round" stroke-linejoin="round"><path vector-effect="non-scaling-stroke" transform="translate(0.00,-10)" d="M0,10 V0 H4.6"/></g>
<path class="t" d="M528,958.6 L476.4,871.3"/>
<path transform="translate(476.40,871.30) rotate(-120.59)" d="M0,0 Q-9.90,0.66 -18.00,3.00 L-16.74,0 L-18.00,-3.00 Q-9.90,-0.66 0,0 Z" style="fill:#0a0a0a;stroke:#0a0a0a;stroke-width:0.7;stroke-linejoin:round"/>
<path class="t" d="M528,958.6 L506.3,829.5"/>
<path transform="translate(506.30,829.50) rotate(-99.54)" d="M0,0 Q-9.90,0.66 -18.00,3.00 L-16.74,0 L-18.00,-3.00 Q-9.90,-0.66 0,0 Z" style="fill:#0a0a0a;stroke:#0a0a0a;stroke-width:0.7;stroke-linejoin:round"/>
<path class="t" d="M528,958.6 L559.8,847.2"/>
<path transform="translate(559.80,847.20) rotate(-74.07)" d="M0,0 Q-9.90,0.66 -18.00,3.00 L-16.74,0 L-18.00,-3.00 Q-9.90,-0.66 0,0 Z" style="fill:#0a0a0a;stroke:#0a0a0a;stroke-width:0.7;stroke-linejoin:round"/>
<g id="t24" transform="translate(-1.006,-0.771) scale(1.0015,1.0011) translate(665.81,717.99) scale(1.6635,1.8380) skewX(-19)" fill="none" stroke="#111" stroke-width="1.8" stroke-linecap="round" stroke-linejoin="round"><path vector-effect="non-scaling-stroke" transform="translate(0.00,-10)" d="M0,10 V0 H4.6"/></g>
<path class="t" d="M691,729.5 H656 L626,757.5"/>
<path transform="translate(626.00,757.50) rotate(136.97)" d="M0,0 Q-11.00,0.66 -20.00,3.00 L-18.60,0 L-20.00,-3.00 Q-11.00,-0.66 0,0 Z" style="fill:#0a0a0a;stroke:#0a0a0a;stroke-width:0.7;stroke-linejoin:round"/>
<g id="t25" transform="translate(-28.935,-7.649) scale(1.0668,1.0105) translate(431.40,736.20) scale(1.7173,1.9000) skewX(-19)" fill="none" stroke="#111" stroke-width="2" stroke-linecap="round" stroke-linejoin="round"><path vector-effect="non-scaling-stroke" transform="translate(0.00,-10)" d="M4.6,0 H0 V10 H2.8 Q5,10 5,7.8 V6.9 Q5,4.7 2.8,4.7 H0"/></g>
<circle class="m2" cx="464.8" cy="727.6" r="10.2"/>
<path class="m2" d="M450,722.5 L455,727 Q458,725.5 459.8,722.5"/>
<path class="g" d="M78.8,761.9 H130 M78.8,1088.8 H130"/>
<path class="t" d="M86.5,761.9 V1088.8"/>
<path transform="translate(86.50,762.60) rotate(-90.00)" d="M0,0 Q-11.55,0.62 -21.00,2.80 L-19.53,0 L-21.00,-2.80 Q-11.55,-0.62 0,0 Z" style="fill:#0a0a0a;stroke:#0a0a0a;stroke-width:0.7;stroke-linejoin:round"/>
<path transform="translate(86.50,1088.50) rotate(90.00)" d="M0,0 Q-11.55,0.62 -21.00,2.80 L-19.53,0 L-21.00,-2.80 Q-11.55,-0.62 0,0 Z" style="fill:#0a0a0a;stroke:#0a0a0a;stroke-width:0.7;stroke-linejoin:round"/>
<g id="t26" transform="translate(-0.065,-49.298) scale(1.0010,1.0545) translate(75.49,944.39) rotate(-90) scale(1.8994,2.0080) skewX(-19)" fill="none" stroke="#111" stroke-width="1.8" stroke-linecap="round" stroke-linejoin="round"><path vector-effect="non-scaling-stroke" transform="translate(0.00,-10)" d="M3.6,10 V0 L0,7 H4.8"/><path vector-effect="non-scaling-stroke" transform="translate(6.50,-10)" d="M4.4,0.2 Q0,2.6 0,6.2 V7.8 Q0,10 2.3,10 Q4.6,10 4.6,7.8 V6.5 Q4.6,4.3 2.3,4.3 Q0,4.3 0,6.5"/><path vector-effect="non-scaling-stroke" transform="translate(12.80,-10)" d="M4.7,0 H0.6 L0.2,4.3 Q1.1,3.7 2.4,3.7 Q4.6,3.7 4.6,5.9 V7.8 Q4.6,10 2.3,10 Q0,10 0,8.1"/></g>
<path class="g" d="M130,1089 V1140 M770,1089 V1140"/>
<path class="t" d="M130,1132 H770"/>
<path transform="translate(130.30,1132.00) rotate(180.00)" d="M0,0 Q-11.55,0.62 -21.00,2.80 L-19.53,0 L-21.00,-2.80 Q-11.55,-0.62 0,0 Z" style="fill:#0a0a0a;stroke:#0a0a0a;stroke-width:0.7;stroke-linejoin:round"/>
<path transform="translate(769.70,1132.00) rotate(0.00)" d="M0,0 Q-11.55,0.62 -21.00,2.80 L-19.53,0 L-21.00,-2.80 Q-11.55,-0.62 0,0 Z" style="fill:#0a0a0a;stroke:#0a0a0a;stroke-width:0.7;stroke-linejoin:round"/>
<g id="t27" transform="translate(-6.784,-1.131) scale(1.0140,1.0010) translate(445.81,1122.99) scale(1.9054,1.9680) skewX(-19)" fill="none" stroke="#111" stroke-width="1.8" stroke-linecap="round" stroke-linejoin="round"><path vector-effect="non-scaling-stroke" transform="translate(0.00,-10)" d="M0.2,9.8 Q4.6,7.4 4.6,3.8 V2.2 Q4.6,0 2.3,0 Q0,0 0,2.2 V3.5 Q0,5.7 2.3,5.7 Q4.6,5.7 4.6,3.5"/><path vector-effect="non-scaling-stroke" transform="translate(6.30,-10)" d="M2,0 Q4,0 4,2.2 V7.8 Q4,10 2,10 Q0,10 0,7.8 V2.2 Q0,0 2,0 Z"/><path vector-effect="non-scaling-stroke" transform="translate(12.00,-10)" d="M4.7,0 H0.6 L0.2,4.3 Q1.1,3.7 2.4,3.7 Q4.6,3.7 4.6,5.9 V7.8 Q4.6,10 2.3,10 Q0,10 0,8.1"/></g>
</svg></body></html>
